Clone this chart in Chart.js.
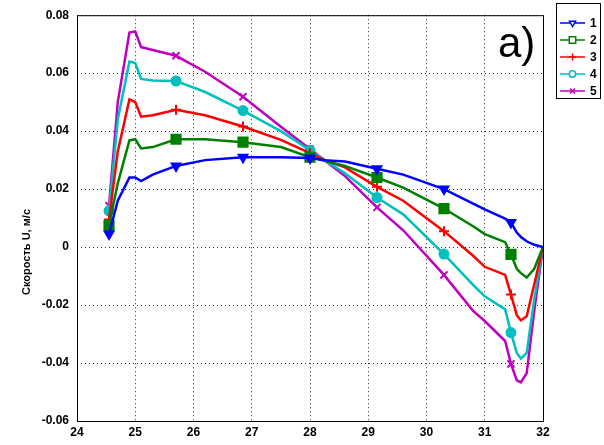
<!DOCTYPE html>
<html>
<head>
<meta charset="utf-8">
<script src="https://cdn.jsdelivr.net/npm/chart.js@4/dist/chart.umd.min.js"></script>
<style>
  html, body { margin: 0; padding: 0; background: #fff; }
  #wrap { width: 604px; height: 445px; }
</style>
</head>
<body>
<div id="wrap"><canvas id="chart" width="604" height="445"></canvas></div>
<script>
// координата x (общая для всех кривых)
const xs = [24.55, 24.7, 24.9, 25.0, 25.1, 25.3, 25.7, 26.2, 26.85, 27.5, 28.0, 28.25, 28.6,
  29.15, 29.6, 30.3, 30.8, 31.0, 31.35, 31.45, 31.55, 31.62, 31.72, 31.85, 32.0];
// где стоят маркеры
const markerX = [24.55, 25.7, 26.85, 28.0, 29.15, 30.3, 31.45];

const u1 = [0.0045, 0.016, 0.024, 0.024, 0.0228, 0.025, 0.028, 0.030, 0.031, 0.031, 0.0307, 0.030, 0.0295,
  0.027, 0.025, 0.020, 0.015, 0.013, 0.0098, 0.0085, 0.005, 0.0035, 0.002, 0.0008, 0];
const u2 = [0.0075, 0.022, 0.0368, 0.0372, 0.034, 0.0345, 0.0372, 0.0372, 0.0362, 0.0345, 0.031, 0.0298, 0.028,
  0.024, 0.0205, 0.0133, 0.0072, 0.0045, 0.0017, -0.0025, -0.0075, -0.009, -0.0105, -0.0075, 0];
const u3 = [0.0095, 0.033, 0.051, 0.050, 0.045, 0.0455, 0.0474, 0.0455, 0.0416, 0.037, 0.0324, 0.030, 0.0275,
  0.0208, 0.016, 0.0055, -0.003, -0.0068, -0.0096, -0.0164, -0.0235, -0.0253, -0.0239, -0.0128, 0];
const u4 = [0.0125, 0.044, 0.064, 0.0635, 0.058, 0.0575, 0.0573, 0.0535, 0.0471, 0.040, 0.0334, 0.030, 0.0255,
  0.0171, 0.0113, -0.0024, -0.013, -0.017, -0.0215, -0.0295, -0.0365, -0.0385, -0.0365, -0.018, 0];
const u5 = [0.0143, 0.050, 0.074, 0.0744, 0.069, 0.068, 0.066, 0.0605, 0.0519, 0.0415, 0.0338, 0.030, 0.0245,
  0.0137, 0.0058, -0.0096, -0.022, -0.0255, -0.0324, -0.0403, -0.046, -0.0467, -0.0435, -0.022, 0];

const seriesNames = ['1', '2', '3', '4', '5'];
const xTicks = [24, 25, 26, 27, 28, 29, 30, 31, 32];
const yTicks = [-0.06, -0.04, -0.02, 0, 0.02, 0.04, 0.06, 0.08];
const yTitle = 'Скорость U, м/с';
const panelLabel = 'a)';

const styles = [
  { color: '#0000ff', point: 'triangle', rot: 180, r: 5 },
  { color: '#008000', point: 'rect', rot: 0, r: 6.5 },
  { color: '#ff0000', point: 'cross', rot: 0, r: 5 },
  { color: '#00bfbf', point: 'circle', rot: 0, r: 4.5 },
  { color: '#bf00bf', point: 'crossRot', rot: 0, r: 5 }
];

const allU = [u1, u2, u3, u4, u5];

const datasets = allU.map((u, k) => {
  const s = styles[k];
  return {
    label: seriesNames[k],
    data: xs.map((x, i) => ({ x: x, y: u[i] })),
    borderColor: s.color,
    backgroundColor: s.color,
    borderWidth: 2.5,
    tension: 0,
    pointStyle: s.point,
    pointRotation: s.rot,
    pointBorderWidth: 2,
    pointBackgroundColor: s.color,
    pointRadius: ctx => markerX.includes(ctx.raw.x) ? s.r : 0,
    pointHoverRadius: 0
  };
});

// рамка, легенда, подпись оси и "a)"
const extras = {
  id: 'extras',
  afterDraw(chart) {
    const ctx = chart.ctx;
    const a = chart.chartArea;
    ctx.save();
    ctx.strokeStyle = '#000';
    ctx.lineWidth = 1;
    ctx.strokeRect(a.left + 0.5, a.top + 0.5, a.right - a.left, a.bottom - a.top);

    // подпись оси y
    ctx.save();
    ctx.translate(27, 252);
    ctx.rotate(-Math.PI / 2);
    ctx.font = 'bold 11px "Liberation Sans", Arial, sans-serif';
    ctx.fillStyle = '#000';
    ctx.textAlign = 'center';
    ctx.textBaseline = 'middle';
    ctx.fillText(yTitle, 0, 0);
    ctx.restore();

    // a)
    ctx.font = '42px "Liberation Sans", Arial, sans-serif';
    ctx.fillStyle = '#000';
    ctx.textAlign = 'left';
    ctx.textBaseline = 'alphabetic';
    ctx.fillText(panelLabel, 498, 57);

    // легенда
    const lx = 556, ly = 3, lw = 44, lh = 95;
    ctx.fillStyle = '#fff';
    ctx.fillRect(lx, ly, lw, lh);
    ctx.strokeStyle = '#000';
    ctx.strokeRect(lx + 0.5, ly + 0.5, lw, lh);
    ctx.font = 'bold 12px "Liberation Sans", Arial, sans-serif';
    ctx.textBaseline = 'middle';
    styles.forEach((s, k) => {
      const y = 23 + k * 17;
      ctx.strokeStyle = s.color;
      ctx.lineWidth = 1.5;
      ctx.beginPath();
      ctx.moveTo(560, y);
      ctx.lineTo(585, y);
      ctx.stroke();
      ctx.fillStyle = '#fff';
      ctx.lineWidth = 1.5;
      Chart.helpers.drawPoint(ctx, { pointStyle: s.point, rotation: s.rot, radius: s.r * 0.7, borderWidth: 1.5 }, 572.5, y);
      ctx.fillStyle = '#000';
      ctx.fillText(seriesNames[k], 590, y + 1);
    });
    ctx.restore();
  }
};

const tickFont = { family: '"Liberation Sans", Arial, sans-serif', size: 12, weight: 'bold' };

new Chart(document.getElementById('chart'), {
  type: 'line',
  data: { datasets: datasets },
  options: {
    responsive: false,
    animation: false,
    events: [],
    layout: { padding: { top: 11, right: 61, left: 0, bottom: 0 } },
    plugins: { legend: { display: false }, tooltip: { enabled: false } },
    scales: {
      x: {
        type: 'linear',
        min: 24, max: 32,
        afterBuildTicks: sc => { sc.ticks = xTicks.map(v => ({ value: v })); },
        afterFit: sc => { sc.height = 24; },
        ticks: { color: '#000', font: tickFont, padding: 4, maxRotation: 0 },
        grid: { color: '#333', lineWidth: 1, drawTicks: false },
        border: { display: false, dash: [1, 3] }
      },
      y: {
        type: 'linear',
        min: -0.06, max: 0.08,
        afterBuildTicks: sc => { sc.ticks = yTicks.map(v => ({ value: v })); },
        afterFit: sc => { sc.width = 77; },
        ticks: {
          color: '#000', font: tickFont, padding: 8,
          callback: v => (Math.abs(v) < 1e-9 ? '0' : String(Math.round(v * 100) / 100))
        },
        grid: { color: '#333', lineWidth: 1, drawTicks: false },
        border: { display: false, dash: [1, 3] }
      }
    }
  },
  plugins: [extras]
});
</script>
</body>
</html>
